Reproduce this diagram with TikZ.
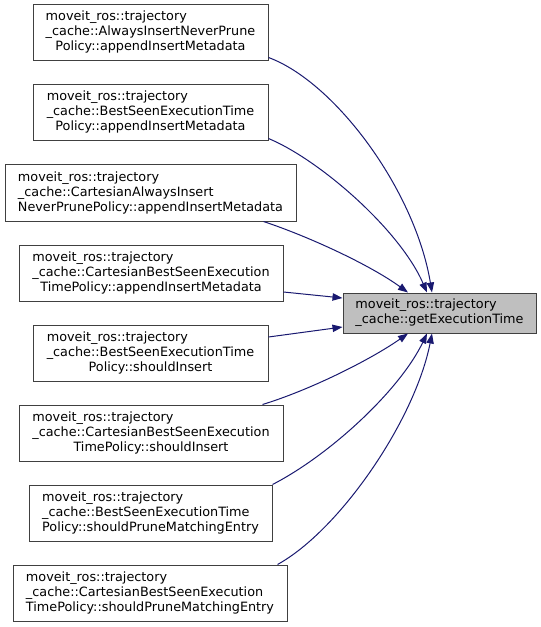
\documentclass[tikz,border=0pt]{standalone}
\usepackage{fontspec}
\setmainfont{DejaVu Sans}
\usetikzlibrary{calc,arrows.meta}
\definecolor{boxgray}{HTML}{404040}
\definecolor{targetfill}{HTML}{BFBFBF}
\definecolor{edgeblue}{HTML}{191970}
\newcommand{\doxlab}[3]{\begin{tabular}{@{}l@{}}#1\\#2\\\multicolumn{1}{@{}c@{}}{#3}\end{tabular}}
\newcommand{\doxlabtwo}[2]{\begin{tabular}{@{}l@{}}#1\\#2\end{tabular}}
\begin{document}
\begin{tikzpicture}[x=0.75pt,y=-0.75pt,
  srcbox/.style={draw=boxgray, line width=0.75pt, fill=white, inner sep=0pt, minimum height=42pt, font=\fontsize{9.6}{11.25}\selectfont},
  tgtbox/.style={srcbox, fill=targetfill, minimum height=30pt, minimum width=144.75pt},
  edge/.style={draw=edgeblue, line width=0.75pt, -{Triangle[length=7.5pt,width=5.5pt]}}]
\useasboundingbox (0,0) rectangle (541,627);
\node[srcbox, minimum width=176.25pt] (n1) at (150.5,33) {\doxlab{moveit\_ros::trajectory}{\_cache::AlwaysInsertNeverPrune}{Policy::appendInsertMetadata}};
\node[srcbox, minimum width=176.25pt] (n2) at (150.5,113) {\doxlab{moveit\_ros::trajectory}{\_cache::BestSeenExecutionTime}{Policy::appendInsertMetadata}};
\node[srcbox, minimum width=218.25pt] (n3) at (150.5,193) {\doxlab{moveit\_ros::trajectory}{\_cache::CartesianAlwaysInsert}{NeverPrunePolicy::appendInsertMetadata}};
\node[srcbox, minimum width=198pt] (n4) at (151,273) {\doxlab{moveit\_ros::trajectory}{\_cache::CartesianBestSeenExecution}{TimePolicy::appendInsertMetadata}};
\node[srcbox, minimum width=176.25pt] (n5) at (150.5,353) {\doxlab{moveit\_ros::trajectory}{\_cache::BestSeenExecutionTime}{Policy::shouldInsert}};
\node[srcbox, minimum width=198pt] (n6) at (151,433) {\doxlab{moveit\_ros::trajectory}{\_cache::CartesianBestSeenExecution}{TimePolicy::shouldInsert}};
\node[srcbox, minimum width=182.25pt] (n7) at (150.5,513) {\doxlab{moveit\_ros::trajectory}{\_cache::BestSeenExecutionTime}{Policy::shouldPruneMatchingEntry}};
\node[srcbox, minimum width=205.5pt] (n8) at (150,593) {\doxlab{moveit\_ros::trajectory}{\_cache::CartesianBestSeenExecution}{TimePolicy::shouldPruneMatchingEntry}};
\node[tgtbox] (t) at (439.5,313) {\doxlabtwo{moveit\_ros::trajectory}{\_cache::getExecutionTime}};
% edges
\draw[edge] ($(n1.south east)+(0,-4)$) .. controls (335,82) and (415,190) .. ($(t.north)+(-7.5,0)$);
\draw[edge] ($(n2.south east)+(0,-3)$) .. controls (320,160) and (400,230) .. ($(t.north)+(-12.5,0)$);
\draw[edge] ($(n3.south east)+(-33,0)$) .. controls (310,237) and (370,265) .. ($(t.north)+(-31.5,0)$);
\draw[edge] ($(n4.east)+(0,19)$) -- ($(t.west)+(0,-15)$);
\draw[edge] ($(n5.east)+(0,-16)$) -- ($(t.west)+(0,14)$);
\draw[edge] ($(n6.north east)+(-21,0)$) .. controls (310,390) and (370,360) .. ($(t.south)+(-31.5,0)$);
\draw[edge] (n7.north east) .. controls (330,455) and (400,390) .. ($(t.south)+(-12.5,0)$);
\draw[edge] ($(n8.north east)+(-10,0)$) .. controls (340,530) and (415,420) .. ($(t.south)+(-7.5,0)$);
\end{tikzpicture}
\end{document}
